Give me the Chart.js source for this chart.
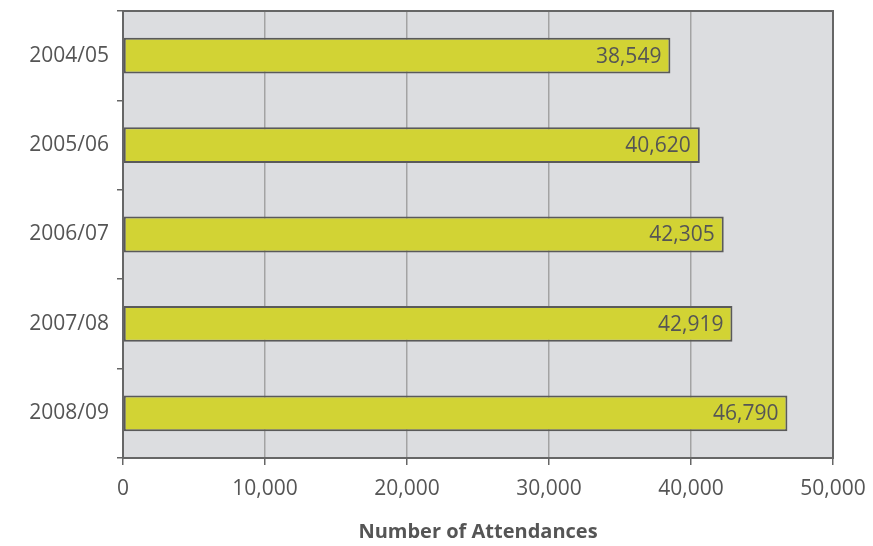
<!DOCTYPE html>
<html>
<head>
<meta charset="utf-8">
<script src="https://cdn.jsdelivr.net/npm/chart.js@4/dist/chart.umd.min.js"></script>
<style>
  body { margin: 0; background: #fff; }
  #wrap { width: 873px; height: 546px; }
</style>
</head>
<body>
<div id="wrap"><canvas id="barChart" width="873" height="546"></canvas></div>
<script>
const years = ['2004/05', '2005/06', '2006/07', '2007/08', '2008/09'];
const attendances = [38549, 40620, 42305, 42919, 46790];
const xTicks = [0, 10000, 20000, 30000, 40000, 50000];

const FONT = "'Open Sans', 'DejaVu Sans', sans-serif";
const TEXT = '#555555';

// grey plot background, frame and value labels
const panel = {
    id: 'panel',
    beforeDraw(chart) {
        const a = chart.chartArea, c = chart.ctx;
        c.save();
        c.fillStyle = '#dcdde0';
        c.fillRect(a.left, a.top, a.right - a.left, a.bottom - a.top);
        c.restore();
    },
    afterDatasetsDraw(chart) {
        const c = chart.ctx;
        const meta = chart.getDatasetMeta(0);
        c.save();
        c.font = '21px ' + FONT;
        c.fillStyle = TEXT;
        c.textAlign = 'right';
        c.textBaseline = 'middle';
        meta.data.forEach((bar, i) => {
            c.fillText(attendances[i].toLocaleString('en-US'), bar.x - 9, bar.y + 1);
        });
        c.restore();
    },
    afterDraw(chart) {
        const a = chart.chartArea, c = chart.ctx;
        c.save();
        c.strokeStyle = '#666666';
        c.lineWidth = 2;
        c.strokeRect(a.left, a.top, a.right - a.left, a.bottom - a.top);
        c.restore();
    }
};

var ctx = document.getElementById('barChart').getContext('2d');
var myChart = new Chart(ctx, {
    type: 'bar',
    data: {
        labels: years,
        datasets: [{
            data: attendances,
            backgroundColor: '#d2d334',
            borderColor: '#5a5a5a',
            borderWidth: 2,
            borderSkipped: false,
            barPercentage: 0.4,
            categoryPercentage: 1.0
        }]
    },
    options: {
        indexAxis: 'y',
        responsive: false,
        animation: false,
        layout: { padding: { top: 11, right: 40, left: 0, bottom: 0 } },
        plugins: {
            legend: { display: false },
            tooltip: { enabled: false }
        },
        scales: {
            x: {
                min: 0,
                max: 50000,
                afterBuildTicks(scale) {
                    scale.ticks = xTicks.map(v => ({ value: v }));
                },
                afterFit(scale) {
                    scale.height = 88;
                    scale.paddingLeft = 0;
                    scale.paddingRight = 0;
                },
                border: { display: false },
                grid: {
                    color: '#a3a3a3',
                    lineWidth: 1.5,
                    tickColor: '#666666',
                    tickLength: 7
                },
                ticks: {
                    color: TEXT,
                    font: { family: FONT, size: 21 },
                    padding: 11,
                    callback: v => v.toLocaleString('en-US')
                },
                title: {
                    display: true,
                    text: 'Number of Attendances',
                    color: TEXT,
                    font: { family: FONT, size: 20, weight: 'bold' },
                    padding: { top: 4, bottom: 2 }
                }
            },
            y: {
                afterFit(scale) {
                    scale.width = 123;
                    scale.paddingTop = 0;
                    scale.paddingBottom = 0;
                },
                border: { display: false },
                grid: {
                    offset: true,
                    drawOnChartArea: false,
                    tickColor: '#666666',
                    lineWidth: 1.5,
                    tickLength: 6
                },
                ticks: {
                    color: TEXT,
                    font: { family: FONT, size: 21 },
                    padding: 8
                }
            }
        }
    },
    plugins: [panel]
});
</script>
</body>
</html>
